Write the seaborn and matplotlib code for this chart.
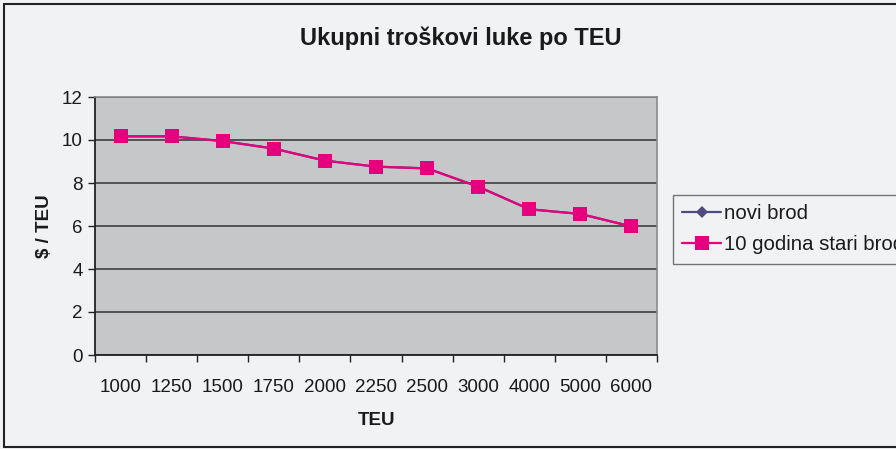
import pandas as pd
import matplotlib.pyplot as plt
import seaborn as sns
from matplotlib.lines import Line2D
from matplotlib.ticker import FixedLocator, NullFormatter

# data
teu = ["1000", "1250", "1500", "1750", "2000", "2250", "2500", "3000", "4000", "5000", "6000"]
novi_brod = [10.17, 10.17, 9.95, 9.60, 9.04, 8.76, 8.68, 7.83, 6.78, 6.56, 5.98]
stari_brod = [10.17, 10.17, 9.95, 9.60, 9.04, 8.76, 8.68, 7.83, 6.78, 6.56, 5.98]
series_names = ["novi brod", "10 godina stari brod"]

df = pd.DataFrame({
    "pos": list(range(len(teu))) * 2,
    "value": novi_brod + stari_brod,
    "serija": [series_names[0]] * len(teu) + [series_names[1]] * len(teu),
})

bg = "#F1F2F4"
plot_bg = "#C6C7C9"

sns.set_theme(style="white")
plt.rcParams["font.family"] = ["Liberation Sans", "DejaVu Sans"]

fig = plt.figure(figsize=(8.96, 4.49), dpi=100, facecolor=bg)
ax = fig.add_axes([95 / 896, 1 - 355 / 449, (657 - 95) / 896, (355 - 97) / 449])
ax.set_facecolor(plot_bg)

sns.lineplot(data=df, x="pos", y="value", hue="serija", style="serija",
             hue_order=series_names, style_order=series_names,
             palette={series_names[0]: "#4E4C7E", series_names[1]: "#E6007E"},
             markers={series_names[0]: "D", series_names[1]: "s"},
             dashes=False, markersize=10, markeredgewidth=0, linewidth=1.6,
             ax=ax, zorder=3)

# the diamonds of the first series sit hidden under the squares
for ln in ax.lines:
    if ln.get_marker() == "D":
        ln.set_markersize(6)

ax.set_xlim(-0.5, len(teu) - 0.5)
ax.set_ylim(0, 12)
ax.set_yticks(range(0, 13, 2))
ax.yaxis.grid(True, color="#333333", linewidth=1.1)
ax.xaxis.grid(False)
ax.set_axisbelow(True)

# category boundaries get the tick marks, labels sit at the centres
ax.xaxis.set_major_locator(FixedLocator([i - 0.5 for i in range(len(teu) + 1)]))
ax.xaxis.set_major_formatter(NullFormatter())
ax.xaxis.set_minor_locator(FixedLocator(list(range(len(teu)))))
ax.set_xticklabels(teu, minor=True)
ax.tick_params(axis="x", which="major", length=5, width=1, color="#222222", bottom=True)
ax.tick_params(axis="x", which="minor", length=0, pad=17, labelsize=13.5, labelcolor="#1a1a1a")
ax.tick_params(axis="y", length=5, width=1, color="#222222", left=True, pad=4,
               labelsize=13.5, labelcolor="#1a1a1a")

for side in ["left", "bottom"]:
    ax.spines[side].set_color("#222222")
    ax.spines[side].set_linewidth(1.3)
for side in ["top", "right"]:
    ax.spines[side].set_color("#8a8a8a")
    ax.spines[side].set_linewidth(1.2)

ax.set_xlabel("TEU", fontsize=13.5, fontweight="bold", labelpad=12, color="#1a1a1a")
ax.set_ylabel("\\$ / TEU", fontsize=13.5, fontweight="bold", labelpad=6, color="#1a1a1a")

fig.text(461 / 896, 1 - 38 / 449, "Ukupni troškovi luke po TEU", ha="center", va="center",
         fontsize=17, fontweight="bold", color="#1a1a1a")

handles, labels = ax.get_legend_handles_labels()
ax.get_legend().remove()
for h in handles:
    if h.get_marker() == "D":
        h.set_markersize(6.5)
leg = fig.legend(handles, labels, loc="upper left", bbox_to_anchor=(673 / 896, 1 - 195 / 449),
                 frameon=True, fancybox=False, fontsize=14.7, handlelength=1.9,
                 handletextpad=0.15, borderpad=0.45, labelspacing=0.6, borderaxespad=0)
leg.get_frame().set_facecolor(bg)
leg.get_frame().set_edgecolor("#555555")
leg.get_frame().set_linewidth(1.0)
for t in leg.get_texts():
    t.set_color("#1a1a1a")

# outer chart border (right side runs off the image)
fig.add_artist(Line2D([4 / 896, 4 / 896], [2 / 449, 1 - 4 / 449], color="#222222",
                      linewidth=1.5, transform=fig.transFigure))
fig.add_artist(Line2D([4 / 896, 1.0], [1 - 4 / 449, 1 - 4 / 449], color="#222222",
                      linewidth=1.5, transform=fig.transFigure))
fig.add_artist(Line2D([4 / 896, 1.0], [2 / 449, 2 / 449], color="#222222",
                      linewidth=1.5, transform=fig.transFigure))

fig.savefig("out.png", dpi=100, facecolor=bg)
